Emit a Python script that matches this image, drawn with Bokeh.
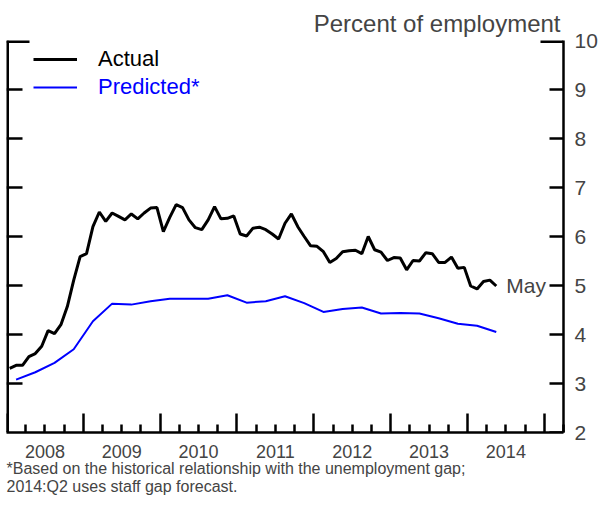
import numpy as np
from bokeh.plotting import figure
from bokeh.models import (Range1d, LinearAxis, FixedTicker, Legend, LegendItem,
                          Label, Title, CustomJSTickFormatter)
from bokeh.embed import file_html
from bokeh.resources import INLINE

FONT = "Liberation Sans"

start_year = 2008
# Monthly, Jan 2008 - May 2014 (percent of employment)
actual = [3.31, 3.37, 3.37, 3.55, 3.61, 3.76, 4.08, 4.02, 4.20, 4.57, 5.11, 5.59,
          5.65, 6.20, 6.50, 6.31, 6.48, 6.41, 6.34, 6.46, 6.36, 6.48, 6.58, 6.59,
          6.10, 6.39, 6.65, 6.59, 6.34, 6.18, 6.14, 6.34, 6.61, 6.36, 6.37, 6.42,
          6.05, 6.01, 6.17, 6.19, 6.14, 6.05, 5.95, 6.27, 6.46, 6.20, 6.00, 5.81,
          5.80, 5.69, 5.47, 5.55, 5.69, 5.71, 5.72, 5.65, 6.00, 5.73, 5.68, 5.51,
          5.57, 5.56, 5.32, 5.51, 5.50, 5.67, 5.65, 5.47, 5.47, 5.58, 5.35, 5.37,
          4.99, 4.93, 5.08, 5.11, 4.99]
# Quarterly, 2008:Q1 - 2014:Q2
predicted = [3.08, 3.23, 3.42, 3.70, 4.27, 4.63, 4.61, 4.68, 4.73, 4.73, 4.73, 4.80,
             4.65, 4.68, 4.78, 4.64, 4.46, 4.52, 4.55, 4.43, 4.44, 4.43, 4.33, 4.22,
             4.18, 4.05]
year_labels = ["2008", "2009", "2010", "2011", "2012", "2013", "2014"]
y_ticks = [2, 3, 4, 5, 6, 7, 8, 9, 10]
series_names = ["Actual", "Predicted*"]
last_label = "May"
title_text = "Percent of employment"
footnote = ["*Based on the historical relationship with the unemployment gap;",
            "2014:Q2 uses staff gap forecast."]

actual_x = start_year + (np.arange(len(actual)) + 0.5) / 12
pred_x = start_year + (np.arange(len(predicted)) + 0.5) / 4
years = [start_year + i for i in range(len(year_labels) + 1)]
quarters = [y + q / 4 for y in years for q in range(1, 4)]
mid_years = [y + 0.5 for y in years[:-1]]
x_end = years[-1] + 0.25

p = figure(width=600, height=497,
           x_range=Range1d(start_year, x_end), y_range=Range1d(y_ticks[0], y_ticks[-1]),
           output_backend="svg", toolbar_location=None,
           x_axis_location=None, y_axis_location=None,
           min_border_left=6, min_border_right=34, min_border_top=40, min_border_bottom=0)
for g in p.grid:
    g.visible = False
p.outline_line_color = None
p.background_fill_color = "white"
p.border_fill_color = "white"

p.title.text = title_text
p.title.align = "right"
p.title.text_font = FONT
p.title.text_font_size = "24px"
p.title.text_font_style = "normal"
p.title.standoff = 8
p.title.offset = 3

LW = 2.5
common = dict(axis_line_color="black", axis_line_width=LW,
              major_tick_line_color="black", major_tick_line_width=LW,
              minor_tick_line_color="black", minor_tick_line_width=LW,
              major_tick_out=0, minor_tick_out=0,
              major_label_text_font=FONT)

# left axis: line and inner ticks (pinned to frame edge, so drawn twice as wide)
ax_l1 = LinearAxis(ticker=FixedTicker(ticks=[], minor_ticks=y_ticks[1:-1]),
                   fixed_location=start_year, minor_tick_in=16, **common)
ax_l1.axis_line_width = 5
ax_l2 = LinearAxis(ticker=FixedTicker(ticks=[], minor_ticks=[y_ticks[-1]]),
                   fixed_location=start_year, minor_tick_in=23, **common)
ax_l2.axis_line_color = None
ax_l2.minor_tick_line_width = 5
p.add_layout(ax_l1, "left")
p.add_layout(ax_l2, "left")

# right axis: labelled axis (line + labels), plus pinned inner ticks
ax_lab = LinearAxis(ticker=FixedTicker(ticks=y_ticks), major_tick_in=0,
                    major_label_standoff=11, major_label_text_font_size="21px", **common)
ax_lab.major_tick_line_color = None
p.add_layout(ax_lab, "right")
ax_r = LinearAxis(ticker=FixedTicker(ticks=[], minor_ticks=y_ticks[:-1]),
                  fixed_location=x_end, minor_tick_in=14, **common)
ax_r.axis_line_color = None
ax_r2 = LinearAxis(ticker=FixedTicker(ticks=[], minor_ticks=[y_ticks[-1]]),
                   fixed_location=x_end, minor_tick_in=23, **common)
ax_r2.axis_line_color = None
ax_r2.minor_tick_line_width = 5
p.add_layout(ax_r, "right")
p.add_layout(ax_r2, "right")

# bottom axes: year ticks, quarter ticks and mid-year labels
ax_b1 = LinearAxis(ticker=FixedTicker(ticks=[], minor_ticks=years),
                   fixed_location=y_ticks[0], minor_tick_in=19, **common)
ax_b1.axis_line_color = None
ax_b2 = LinearAxis(ticker=FixedTicker(ticks=mid_years, minor_ticks=quarters),
                   major_tick_in=0, minor_tick_in=8, major_label_standoff=12,
                   major_label_text_font_size="18px",
                   formatter=CustomJSTickFormatter(code="return String(Math.floor(tick));"),
                   **common)
ax_b2.major_tick_line_color = None
p.add_layout(ax_b1, "below")
p.add_layout(ax_b2, "below")

for line, so in zip(footnote, [-6, 5]):
    t = Title(text=line, align="left", text_font=FONT, text_font_size="16px",
              text_font_style="normal", standoff=so, offset=0)
    p.add_layout(t, "below")

r_act = p.line(actual_x, actual, line_color="black", line_width=3)
r_pred = p.line(pred_x, predicted, line_color="#0000FF", line_width=2)

leg_common = dict(border_line_color=None, background_fill_alpha=0, padding=0, margin=0,
                  spacing=0, glyph_width=44, glyph_height=28, label_height=28,
                  label_standoff=21, label_text_font=FONT, label_text_font_size="22px",
                  label_text_baseline="middle")
leg1 = Legend(items=[LegendItem(label=series_names[0], renderers=[r_act])],
              location=(27, 359), label_text_color="black", **leg_common)
leg2 = Legend(items=[LegendItem(label=series_names[1], renderers=[r_pred])],
              location=(27, 331), label_text_color="#0000FF", **leg_common)
p.add_layout(leg1)
p.add_layout(leg2)

p.add_layout(Label(x=actual_x[-1], y=actual[-1], text=last_label, x_offset=10,
                   text_baseline="middle", text_font=FONT, text_font_size="21px"))

open("out.html", "w").write(file_html(p, INLINE))
